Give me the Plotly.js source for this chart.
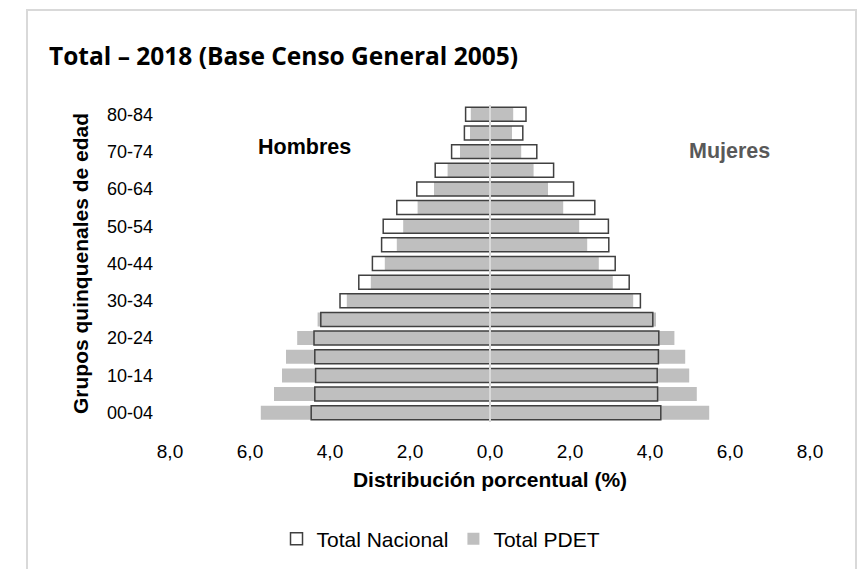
<!DOCTYPE html>
<html><head><meta charset="utf-8">
<script src="https://cdn.plot.ly/plotly-3.0.1.min.js"></script>
<style>
html,body{margin:0;padding:0;background:#fff}
#wrap{position:relative;width:858px;height:569px;overflow:hidden}
#chart{width:858px;height:569px}
#frame{position:absolute;left:26px;top:9px;width:827px;height:620px;border:2px solid #d9d9d9;pointer-events:none}
</style></head><body>
<div id="wrap"><div id="chart"></div><div id="frame"></div></div>
<script>
const categories = ['00-04','05-09','10-14','15-19','20-24','25-29','30-34','35-39','40-44','45-49','50-54','55-59','60-64','65-69','70-74','75-79','80-84'];
const hombresNacional = [4.47,4.38,4.36,4.38,4.40,4.23,3.75,3.28,2.94,2.71,2.67,2.33,1.83,1.37,0.96,0.64,0.61];
const hombresPDET     = [5.73,5.40,5.20,5.10,4.82,4.31,3.58,2.98,2.63,2.33,2.17,1.81,1.40,1.06,0.75,0.50,0.48];
const mujeresNacional = [4.27,4.19,4.18,4.21,4.22,4.07,3.76,3.48,3.13,2.97,2.96,2.62,2.09,1.59,1.17,0.82,0.90];
const mujeresPDET     = [5.48,5.17,4.98,4.88,4.61,4.15,3.58,3.07,2.72,2.43,2.23,1.83,1.45,1.09,0.78,0.55,0.58];
const yTickLabels = ['00-04','10-14','20-24','30-34','40-44','50-54','60-64','70-74','80-84'];
const xTickVals = [-8,-6,-4,-2,0,2,4,6,8];
const xTickText = ['8,0','6,0','4,0','2,0','0,0','2,0','4,0','6,0','8,0'];

const gray = '#bfbfbf';
const outline = '#404040';
const neg = a => a.map(v => -v);

const traces = [
  {type:'bar', orientation:'h', y:categories, x:neg(hombresPDET), name:'Total PDET',
   marker:{color:gray, line:{width:0}}, legendgroup:'pdet', showlegend:true, legendrank:2, hoverinfo:'skip'},
  {type:'bar', orientation:'h', y:categories, x:mujeresPDET, name:'Total PDET',
   marker:{color:gray, line:{width:0}}, legendgroup:'pdet', showlegend:false, hoverinfo:'skip'},
  {type:'bar', orientation:'h', y:categories, x:neg(hombresNacional), name:'Total Nacional',
   marker:{color:'rgba(255,255,255,0)', line:{color:outline, width:1.5}}, legendgroup:'nac', showlegend:true, legendrank:1, hoverinfo:'skip'},
  {type:'bar', orientation:'h', y:categories, x:mujeresNacional, name:'Total Nacional',
   marker:{color:'rgba(255,255,255,0)', line:{color:outline, width:1.5}}, legendgroup:'nac', showlegend:false, hoverinfo:'skip'}
];

const layout = {
  width:858, height:569,
  margin:{l:170, r:48, t:105, b:147},
  paper_bgcolor:'#fff', plot_bgcolor:'#fff',
  barmode:'overlay', bargap:0.25,
  font:{family:'Liberation Sans, Arial, sans-serif', color:'#000'},
  title:{text:'<b>Total – 2018 (Base Censo General 2005)</b>', font:{family:'Open Sans, sans-serif', size:24.5, color:'#000'},
         xref:'container', x:49/858, xanchor:'left', yref:'container', y:1-56/569, yanchor:'middle'},
  xaxis:{range:[-8,8], tickvals:xTickVals, ticktext:xTickText, showgrid:false, zeroline:false,
         showline:false, ticks:'', ticklabelstandoff:16, tickfont:{size:19, color:'#000'},
         title:{text:'<b>Distribución porcentual (%)</b>', font:{size:21, color:'#000'}, standoff:11}, fixedrange:true},
  yaxis:{type:'category', categoryorder:'array', categoryarray:categories, tickvals:yTickLabels, ticktext:yTickLabels,
         showgrid:false, zeroline:false, showline:false, ticks:'', ticklabelstandoff:16, tickfont:{size:18, color:'#000'},
         title:{text:'<b>Grupos quinquenales de edad</b>', font:{size:21, color:'#000'}, standoff:12}, fixedrange:true},
  shapes:[{type:'line', xref:'x', yref:'paper', x0:0, x1:0, y0:0, y1:1, layer:'above', line:{color:'#d9d9d9', width:2}}],
  annotations:[
    {text:'<b>Hombres</b>', xref:'paper', yref:'paper', x:(304-170)/640, y:1-(146.5-105)/317, showarrow:false,
     font:{size:21.5, color:'#000'}, xanchor:'center', yanchor:'middle'},
    {text:'<b>Mujeres</b>', xref:'paper', yref:'paper', x:(729-170)/640, y:1-(150.5-105)/317, showarrow:false,
     font:{size:21.5, color:'#595959'}, xanchor:'center', yanchor:'middle'}
  ],
  legend:{orientation:'h', x:0.514, xref:'container', xanchor:'center', y:1-539/569, yref:'container', yanchor:'middle',
          font:{size:21, color:'#000'}, traceorder:'normal', itemwidth:30, tracegroupgap:0}
};

Plotly.newPlot('chart', traces, layout, {displayModeBar:false, staticPlot:true});
</script>
</body></html>
